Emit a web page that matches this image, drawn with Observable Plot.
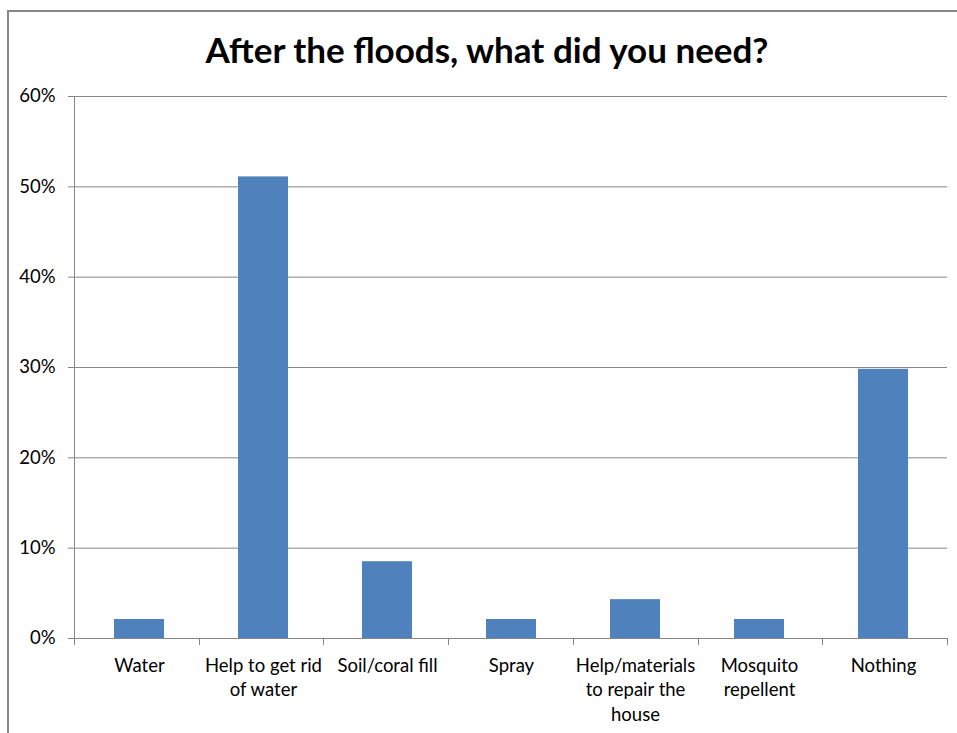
<!DOCTYPE html>
<html>
<head>
<meta charset="utf-8">
<script src="https://cdn.jsdelivr.net/npm/d3@7"></script>
<script src="https://cdn.jsdelivr.net/npm/@observablehq/plot@0.6"></script>
<style>
  html, body { margin: 0; padding: 0; background: #fff; overflow: hidden; }
  #wrap { position: relative; width: 957px; height: 733px; }
  #frame { position: absolute; left: 7px; top: 10px; width: 1200px; height: 1200px;
           border-left: 2px solid #868686; border-top: 2px solid #868686; box-sizing: border-box; }
  #title { position: absolute; left: 7px; width: 960px; top: 29px; text-align: center;
           font-family: Lato, sans-serif; font-weight: bold; font-size: 35px; line-height: 40px; color: #000; }
  #chart { position: absolute; left: 0; top: 0; }
</style>
</head>
<body>
<div id="wrap">
  <div id="frame"></div>
  <div id="title"></div>
  <div id="chart"></div>
</div>
<script>
// Survey answers: share of households naming each need after the floods (%)
const titleText = "After the floods, what did you need?";
const categories = [
  "Water",
  "Help to get rid of water",
  "Soil/coral fill",
  "Spray",
  "Help/materials to repair the house",
  "Mosquito repellent",
  "Nothing"
];
const tickLabels = [
  "Water",
  "Help to get rid\nof water",
  "Soil/coral fill",
  "Spray",
  "Help/materials\nto repair the\nhouse",
  "Mosquito\nrepellent",
  "Nothing"
];
const shares = [2.1, 51.1, 8.5, 2.1, 4.3, 2.1, 29.8];
const yTicks = [0, 10, 20, 30, 40, 50, 60];

const data = categories.map((c, i) => ({category: c, share: shares[i]}));
const labelOf = new Map(categories.map((c, i) => [c, tickLabels[i]]));

const axisColor = "#868686";

// Left axis line and the category divider ticks below the baseline
function axisDecorations(index, scales, values, dimensions) {
  const {width, marginLeft, marginRight} = dimensions;
  const y0 = scales.y(0);
  const step = (width - marginLeft - marginRight) / categories.length;
  const g = d3.create("svg:g").attr("stroke", axisColor).attr("stroke-width", 1);
  g.append("line")
    .attr("x1", marginLeft + 0.5).attr("x2", marginLeft + 0.5)
    .attr("y1", scales.y(yTicks[yTicks.length - 1])).attr("y2", y0 + 7);
  for (let i = 1; i <= categories.length; i++) {
    const x = Math.round(marginLeft + i * step) + 0.5;
    g.append("line").attr("x1", x).attr("x2", x).attr("y1", y0).attr("y2", y0 + 7);
  }
  return g.node();
}

const chart = Plot.plot({
  width: 957,
  height: 733,
  marginLeft: 74,
  marginRight: 10,
  marginTop: 96,
  marginBottom: 95,
  style: {fontFamily: "Lato, sans-serif", background: "transparent", color: "#000"},
  x: {domain: categories, paddingInner: 0.6, paddingOuter: 0.3},
  y: {domain: [0, 60]},
  marks: [
    Plot.gridY(yTicks, {stroke: axisColor, strokeOpacity: 1}),
    Plot.barY(data, {x: "category", y: "share", fill: "#4F81BD"}),
    Plot.axisY(yTicks, {
      tickFormat: d => d + "%", tickSize: 6, tickPadding: 13,
      stroke: axisColor, strokeOpacity: 1, fontSize: 18.5, fill: "#000", label: null
    }),
    Plot.axisX({
      tickSize: 0, tickPadding: 16, tickFormat: d => labelOf.get(d),
      fontSize: 18.5, lineHeight: 1.32, fill: "#000", label: null
    }),
    axisDecorations
  ]
});

document.getElementById("title").textContent = titleText;
document.getElementById("chart").appendChild(chart);
</script>
</body>
</html>
